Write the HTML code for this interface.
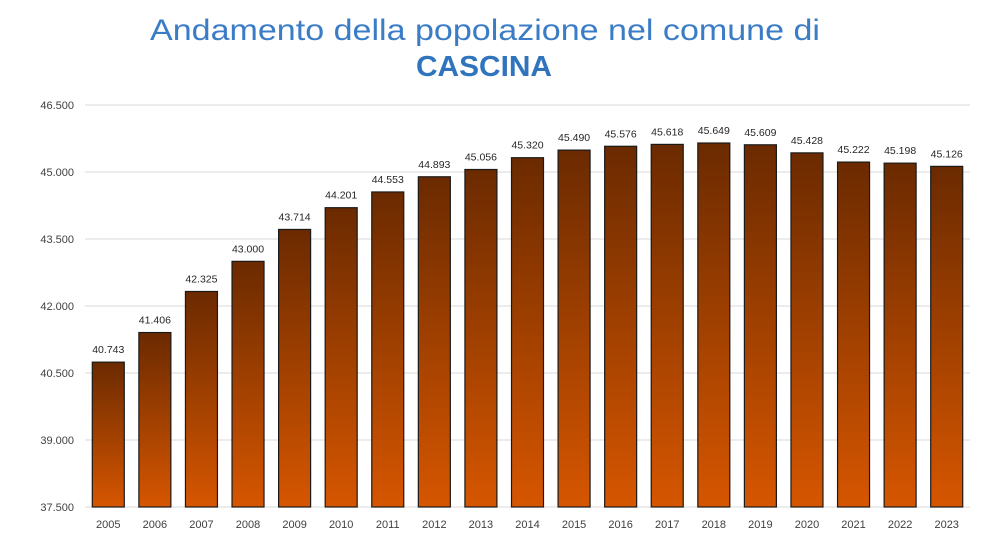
<!DOCTYPE html>
<html><head><meta charset="utf-8"><style>
body{margin:0;background:#fff;}
svg{display:block;font-family:"Liberation Sans",sans-serif;}
</style></head><body>
<svg id="chart" width="984" height="553" viewBox="0 0 984 553" xmlns="http://www.w3.org/2000/svg">
<defs><linearGradient id="barGrad" x1="0" y1="0" x2="0" y2="1">
<stop offset="0" stop-color="#6b2a00"/><stop offset="1" stop-color="#d65600"/></linearGradient></defs>
<text x="485" y="40" text-anchor="middle" font-size="30" fill="#3b7cc6" textLength="670" lengthAdjust="spacingAndGlyphs">Andamento della popolazione nel comune di</text>
<text x="484" y="76" text-anchor="middle" font-size="29" font-weight="bold" fill="#2f74bd" textLength="136" lengthAdjust="spacingAndGlyphs">CASCINA</text>
<g id="grid"></g><g id="bars"></g><g id="labels"></g>
</svg>
<script>
const years=["2005","2006","2007","2008","2009","2010","2011","2012","2013","2014","2015","2016","2017","2018","2019","2020","2021","2022","2023"];
const population=[40743,41406,42325,43000,43714,44201,44553,44893,45056,45320,45490,45576,45618,45649,45609,45428,45222,45198,45126];
const yTicks=[37500,39000,40500,42000,43500,45000,46500];
const NS="http://www.w3.org/2000/svg";
const yMin=37500,yMax=46500,yTop=105,yBot=507,xL=85,xR=970;
const step=(xR-xL)/years.length, bw=32;
function y(v){return yBot-(v-yMin)/(yMax-yMin)*(yBot-yTop);}
function x(i){return xL+step*(i+0.5);}
function fmt(v){return String(v).replace(/\B(?=(\d{3})+(?!\d))/g,".");}
function mk(t,a,p){const e=document.createElementNS(NS,t);for(const k in a)e.setAttribute(k,a[k]);p.appendChild(e);return e;}
const g=document.getElementById('grid'),b=document.getElementById('bars'),l=document.getElementById('labels');
yTicks.forEach(v=>{
 const ln=mk('line',{x1:xL,x2:xR,y1:y(v),y2:y(v),stroke:'#d9d9d9','stroke-width':1},g);
 
 
 const t=mk('text',{x:74,y:y(v)+4,'text-anchor':'end','font-size':11,fill:'#404040'},g);
 t.textContent=fmt(v);
 
 
});
years.forEach((yr,i)=>{
 const v=population[i];
 const r=mk('rect',{x:x(i)-bw/2,y:y(v),width:bw,height:yBot-y(v),fill:'url(#barGrad)',stroke:'#1a1a1a','stroke-width':1.2},b);
 
 
 const t=mk('text',{x:x(i),y:y(v)-9,'text-anchor':'middle','font-size':10.5,fill:'#262626'},l);
 t.textContent=fmt(v);
 
 
 const xt=mk('text',{x:x(i),y:528,'text-anchor':'middle','font-size':11,fill:'#404040'},l);
 xt.textContent=yr;
 
 
});
</script>
</body></html>
